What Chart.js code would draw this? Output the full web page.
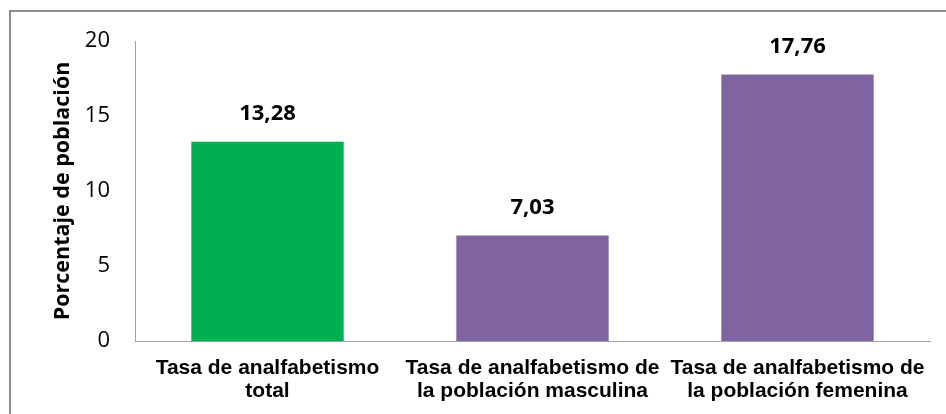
<!DOCTYPE html>
<html>
<head>
<meta charset="utf-8">
<script src="https://cdn.jsdelivr.net/npm/chart.js@4/dist/chart.umd.min.js"></script>
<style>
html,body{margin:0;padding:0;background:#fff;}
#wrap{width:946px;height:414px;}
</style>
</head>
<body>
<div id="wrap"><canvas id="chart" width="946" height="414"></canvas></div>
<script>
// data
const categories = [
  ["Tasa de analfabetismo", "total"],
  ["Tasa de analfabetismo de", "la población masculina"],
  ["Tasa de analfabetismo de", "la población femenina"]
];
const values = [13.28, 7.03, 17.76];
const valueLabels = ["13,28", "7,03", "17,76"];
const barColors = ["#00B050", "#8064A2", "#8064A2"];
const yTicks = [0, 5, 10, 15, 20];
const yTitle = "Porcentaje de población";

// frame, value labels and axis title
const extras = {
  id: "extras",
  beforeDraw(chart){
    const c = chart.ctx;
    c.save();
    c.fillStyle = "#fff";
    c.fillRect(0, 0, chart.width, chart.height);
    c.strokeStyle = "#8e8e8e";
    c.lineWidth = 2;
    c.strokeRect(10, 11, 980, 440);
    c.restore();
  },
  afterDatasetsDraw(chart){
    const c = chart.ctx;
    const meta = chart.getDatasetMeta(0);
    c.save();
    c.fillStyle = "#000";
    c.font = "bold 22px 'Open Sans'";
    c.textAlign = "center";
    c.textBaseline = "middle";
    meta.data.forEach((bar, i) => {
      c.fillText(valueLabels[i], bar.x, bar.y - 28);
    });
    const area = chart.chartArea;
    c.translate(63, 191);
    c.rotate(-Math.PI / 2);
    c.font = "bold 21.5px 'Open Sans'";
    c.fillText(yTitle, 0, 0);
    c.restore();
  }
};

const ctx =
document
.getElementById("chart");

const chart =
new Chart(ctx, {
  type: "bar",
  data: {
    labels: categories,
    datasets: [{
      data: values,
      backgroundColor: barColors,
      borderWidth: 0,
      barPercentage: 0.575,
      categoryPercentage: 1
    }]
  },
  options: {
    responsive: false,
    animation: false,
    events: [],
    layout: { padding: { left: 0, top: 41, right: 16, bottom: 0 } },
    plugins: {
      legend: { display: false },
      tooltip: { enabled: false }
    },
    scales: {
      x: {
        grid: { display: false },
        border: { display: true, color: "#a0a0a0", width: 1 },
        ticks: {
          color: "#000",
          autoSkip: false,
          maxRotation: 0,
          padding: 8,
          font: { family: "'Liberation Sans', Arial, sans-serif", size: 21, weight: "bold", lineHeight: 1.1 }
        },
        afterFit(scale){ scale.height = 73; }
      },
      y: {
        min: 0,
        max: 20,
        grid: { display: false, drawTicks: false },
        border: { display: true, color: "#a0a0a0", width: 1 },
        afterBuildTicks(scale){ scale.ticks = yTicks.map(v => ({ value: v })); },
        ticks: {
          color: "#000",
          padding: 25,
          font: { family: "'Open Sans'", size: 22 }
        },
        afterFit(scale){ scale.width = 135; }
      }
    }
  },
  plugins: [extras]
});
</script>
</body>
</html>
